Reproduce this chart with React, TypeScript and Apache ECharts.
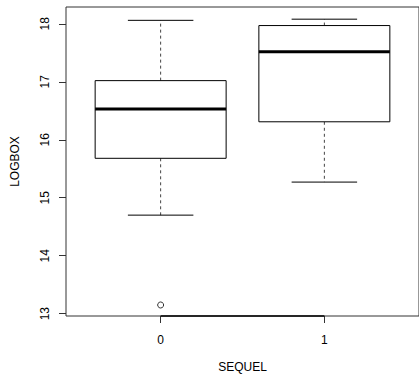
import React, { useEffect, useRef } from "react";
import * as echarts from "echarts";

const categories = ["0", "1"];
const lowerWhisker = [14.7, 15.27];
const q1 = [15.68, 16.31];
const median = [16.53, 17.52];
const q3 = [17.02, 17.97];
const upperWhisker = [18.06, 18.08];
const outliers: [number, number][] = [[0, 13.15]];
const yTicks = [13, 14, 15, 16, 17, 18];
const xTicks = [0, 1];
const xRange = [-0.578, 1.578];
const yRange = [12.96, 18.29];

export default function App() {
  const ref = useRef<HTMLDivElement>(null);
  useEffect(() => {
    if (!ref.current) return;
    const chart = echarts.init(ref.current, undefined, { renderer: "svg" });
    const boxData = categories.map((_, i) => [
      i,
      lowerWhisker[i],
      q1[i],
      median[i],
      q3[i],
      upperWhisker[i],
    ]);
    const font = "Liberation Sans, Arial, sans-serif";
    chart.setOption({
      animation: false,
      backgroundColor: "#fff",
      grid: {
        left: 66,
        top: 7,
        right: 0,
        bottom: 59,
        show: true,
        borderColor: "#333",
        borderWidth: 1,
        backgroundColor: "transparent",
        containLabel: false,
        outerBoundsMode: "none",
      },
      xAxis: {
        type: "value",
        min: xRange[0],
        max: xRange[1],
        name: "SEQUEL",
        nameLocation: "middle",
        nameGap: 45,
        nameTextStyle: { fontFamily: font, fontSize: 12, color: "#000" },
        axisLine: { show: false, onZero: false },
        splitLine: { show: false },
        axisTick: { show: true, length: 7, customValues: xTicks, lineStyle: { color: "#333" } },
        axisLabel: {
          customValues: xTicks,
          formatter: (v: number) => categories[Math.round(v)] ?? "",
          margin: 18,
          fontFamily: font,
          fontSize: 12,
          color: "#000",
        },
      },
      yAxis: {
        type: "value",
        min: yRange[0],
        max: yRange[1],
        name: "LOGBOX",
        nameLocation: "middle",
        nameGap: 45,
        nameRotate: 90,
        nameTextStyle: { fontFamily: font, fontSize: 12, color: "#000" },
        axisLine: { show: false, onZero: false },
        splitLine: { show: false },
        axisTick: { show: true, length: 7, customValues: yTicks, lineStyle: { color: "#333" } },
        axisLabel: {
          customValues: yTicks,
          rotate: 90,
          margin: 15,
          fontFamily: font,
          fontSize: 12,
          color: "#000",
        },
      },
      series: [
        {
          type: "custom",
          data: boxData,
          encode: { x: 0, y: [1, 2, 3, 4, 5] },
          renderItem: (params: any, api: any) => {
            const x = api.value(0);
            const lw = api.coord([x, api.value(1)]);
            const b = api.coord([x, api.value(2)]);
            const m = api.coord([x, api.value(3)]);
            const t = api.coord([x, api.value(4)]);
            const uw = api.coord([x, api.value(5)]);
            const w = api.size([0.8, 0])[0];
            const cx = lw[0];
            const half = w / 2;
            const cap = w / 4;
            return {
              type: "group",
              children: [
                {
                  type: "line",
                  shape: { x1: cx, y1: t[1], x2: cx, y2: uw[1] },
                  style: { stroke: "#444", lineWidth: 1, lineDash: [3, 3] },
                },
                {
                  type: "line",
                  shape: { x1: cx, y1: b[1], x2: cx, y2: lw[1] },
                  style: { stroke: "#444", lineWidth: 1, lineDash: [3, 3] },
                },
                {
                  type: "line",
                  shape: { x1: cx - cap, y1: uw[1], x2: cx + cap, y2: uw[1] },
                  style: { stroke: "#000", lineWidth: 1 },
                },
                {
                  type: "line",
                  shape: { x1: cx - cap, y1: lw[1], x2: cx + cap, y2: lw[1] },
                  style: { stroke: "#000", lineWidth: 1 },
                },
                {
                  type: "rect",
                  shape: { x: cx - half, y: t[1], width: w, height: b[1] - t[1] },
                  style: { fill: "#fff", stroke: "#000", lineWidth: 1 },
                },
                {
                  type: "line",
                  shape: { x1: cx - half, y1: m[1], x2: cx + half, y2: m[1] },
                  style: { stroke: "#000", lineWidth: 3 },
                },
              ],
            };
          },
        },
        {
          type: "scatter",
          data: outliers,
          symbol: "circle",
          symbolSize: 6,
          z: 5,
          itemStyle: { color: "#fff", borderColor: "#000", borderWidth: 1 },
        },
        {
          type: "line",
          data: xTicks.map((v) => [v, yRange[0]]),
          symbol: "none",
          clip: false,
          lineStyle: { color: "#000", width: 1.5 },
        },
      ],
    });
    return () => chart.dispose();
  }, []);
  return <div ref={ref} style={{ width: 419, height: 375, position: "absolute", left: 0, top: 0 }} />;
}
